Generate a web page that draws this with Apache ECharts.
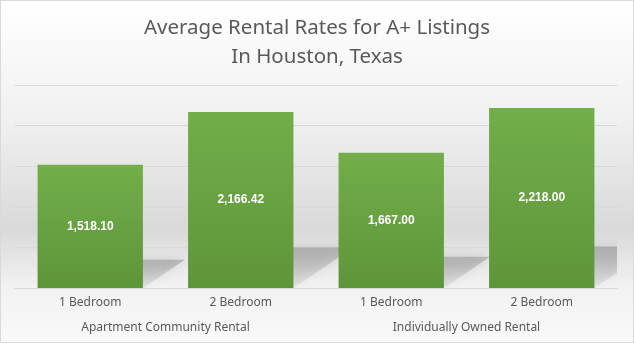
<!DOCTYPE html>
<html><head><meta charset="utf-8">
<script src="https://cdn.jsdelivr.net/npm/echarts@6/dist/echarts.min.js"></script>
<style>
html,body{margin:0;padding:0;background:#fff;}
#c{width:632px;height:341px;border:1px solid #d9d9d9;}
</style></head>
<body><div id="c"></div>
<script>
var titleLines = ['Average Rental Rates for A+ Listings', 'In Houston, Texas'];
var categories = ['1 Bedroom', '2 Bedroom', '1 Bedroom', '2 Bedroom'];
var groups = ['Apartment Community Rental', 'Individually Owned Rental'];
var values = [1518.10, 2166.42, 1667.00, 2218.00];
var yMax = 2500, yInterval = 500;

var chart = echarts.init(document.getElementById('c'));
function fmt(v){ return v.toLocaleString('en-US',{minimumFractionDigits:2,maximumFractionDigits:2}); }
var barFrac = 0.7;
chart.setOption({
  backgroundColor: new echarts.graphic.LinearGradient(0,0,0,1,[
    {offset:0,color:'#ffffff'},{offset:0.35,color:'#f0f0f0'},
    {offset:0.67,color:'#d9d9d9'},{offset:0.84,color:'#f2f2f2'},{offset:1,color:'#f9f9f9'}]),
  animation:false,
  title:{text:titleLines.join('\n'),left:'center',top:8,
    textStyle:{fontFamily:'Noto Sans',fontSize:20.5,fontWeight:'normal',color:'#595959',lineHeight:29}},
  grid:{left:14,right:16,top:84,bottom:54},
  xAxis:[{type:'category',data:categories,
      axisLine:{lineStyle:{color:'#d9d9d9'}},axisTick:{show:false},
      axisLabel:{color:'#595959',fontSize:12,fontFamily:'Noto Sans',margin:9}},
    {type:'category',data:groups,position:'bottom',offset:25,
      axisLine:{show:false},axisTick:{show:false},
      axisLabel:{color:'#595959',fontSize:12,fontFamily:'Noto Sans',margin:9}}],
  yAxis:{type:'value',min:0,max:yMax,interval:yInterval,axisLabel:{show:false},
    axisLine:{show:false},axisTick:{show:false},
    splitLine:{lineStyle:{color:'#d9d9d9'}}},
  series:[
    {type:'custom',xAxisIndex:0,clip:true,z:1,data:values.map(function(v,i){return [i,v];}),
      renderItem:function(params,api){
        var i=api.value(0), v=api.value(1);
        var top=api.coord([i,v]), base=api.coord([i,0]);
        var w=api.size([1,0])[0]*barFrac;
        var h=base[1]-top[1];
        var dx=h*0.34, dy=h*0.23;
        var xl=base[0]-w/2, xr=base[0]+w/2, yb=base[1];
        return {type:'polygon',shape:{points:[[xl,yb],[xr,yb],[xr+dx,yb-dy],[xl+dx,yb-dy]]},
          style:{fill:new echarts.graphic.LinearGradient(0,0,0,1,[
            {offset:0,color:'rgba(140,140,140,0.5)'},{offset:1,color:'rgba(150,150,150,0.12)'}]),
            shadowBlur:10,shadowColor:'rgba(140,140,140,0.6)'}};
      }},
    {type:'bar',xAxisIndex:0,data:values,barWidth:'70%',z:3,
      itemStyle:{color:new echarts.graphic.LinearGradient(0,0,0,1,[
        {offset:0,color:'#72ae4a'},{offset:1,color:'#5f9539'}])},
      label:{show:true,position:'inside',color:'#ffffff',fontWeight:'bold',fontSize:12,
        fontFamily:'Liberation Sans',formatter:function(p){return fmt(p.value);}}}
  ]
});
</script></body></html>
